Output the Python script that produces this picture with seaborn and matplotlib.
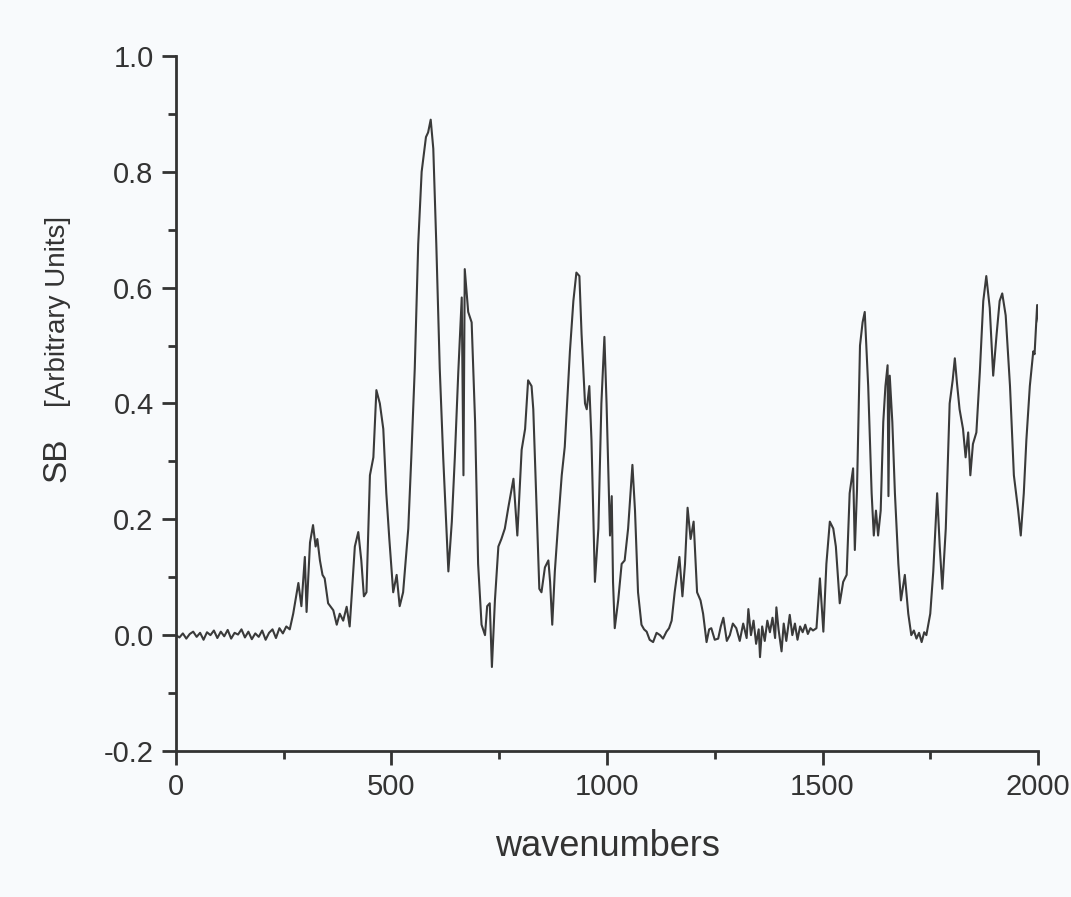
import matplotlib
matplotlib.use("Agg")
import matplotlib.pyplot as plt
import seaborn as sns
import pandas as pd
from matplotlib.ticker import MultipleLocator

wavenumbers = [
    0, 8, 16, 24, 32, 40, 48, 56, 64, 72, 80, 88, 96, 104, 112, 120, 128, 136, 144, 152,
    160, 168, 176, 184, 192, 200, 208, 216, 224, 232, 240, 248, 256, 264,
    272, 284, 291, 299, 303, 311, 318, 324, 328, 334, 340, 345, 353, 365, 373, 380, 388, 396,
    403, 407, 415, 423, 430, 436, 442, 450, 458, 465, 473, 481, 488, 495, 504, 512, 519, 527,
    539, 546, 554, 562, 570, 580, 585, 591, 597, 604, 612,
    620, 628, 632, 640, 647, 655, 663, 667, 670, 678, 686, 694, 701, 709, 717, 722, 728, 733,
    740, 748, 755, 763, 771, 783, 792, 802, 810, 817, 825, 829, 837, 843, 848, 856, 864, 868,
    873, 879, 887, 895, 902, 914, 922, 929, 936, 941, 949, 953, 959, 964, 972, 980, 987, 994,
    999, 1007, 1011, 1014, 1018, 1026, 1034, 1041, 1049, 1059, 1065, 1072, 1080, 1086, 1092,
    1099, 1107, 1115, 1123, 1130, 1138, 1144, 1150, 1157, 1168, 1175, 1181, 1187, 1194, 1201,
    1209, 1217, 1223, 1231, 1237, 1242, 1250, 1258, 1264, 1270, 1278, 1285, 1292, 1300,
    1308, 1316, 1324, 1328, 1334, 1340, 1346, 1352, 1355, 1360, 1366, 1372, 1378, 1384, 1390,
    1393, 1398, 1405, 1410, 1416, 1424, 1430, 1436, 1442, 1448, 1454, 1460, 1466, 1472, 1478,
    1486, 1494, 1502, 1509, 1517, 1525, 1531, 1540, 1548, 1556, 1563, 1571, 1575, 1580, 1587,
    1593, 1598, 1606, 1614, 1619, 1624, 1629, 1635, 1641, 1646, 1651, 1653, 1656, 1662, 1668,
    1676, 1682, 1691, 1699, 1706, 1712, 1718, 1724, 1730, 1736, 1741, 1750, 1757, 1766, 1772,
    1778, 1786, 1795, 1802, 1807, 1812, 1818, 1826, 1832, 1838, 1843, 1849, 1857, 1865, 1873,
    1880, 1888, 1896, 1904, 1911, 1917, 1925, 1935, 1944, 1954, 1960, 1967, 1973, 1981, 1989,
    1992, 1998, 2002,
]

sb_values = [
    0.000, -0.004, 0.003, -0.006, 0.002, 0.006, -0.003, 0.004, -0.008, 0.005, 0.000, 0.008,
    -0.005, 0.006, -0.002, 0.009, -0.006, 0.004, 0.001, 0.010, -0.004, 0.006, -0.007, 0.003,
    -0.003, 0.008, -0.008, 0.004, 0.010, -0.005, 0.012, 0.003, 0.015, 0.010,
    0.037, 0.090, 0.050, 0.135, 0.040, 0.160, 0.190, 0.153, 0.166, 0.129, 0.104, 0.098, 0.055,
    0.043, 0.018, 0.037, 0.025, 0.049, 0.015, 0.060, 0.153, 0.178, 0.129, 0.067, 0.074, 0.276,
    0.307, 0.423, 0.400, 0.356, 0.245, 0.166, 0.074, 0.104, 0.050, 0.074,
    0.184, 0.307, 0.460, 0.675, 0.800, 0.860, 0.868, 0.890, 0.840, 0.675, 0.460,
    0.307, 0.178, 0.110, 0.196, 0.307, 0.454, 0.583, 0.276, 0.632, 0.558, 0.540, 0.368, 0.123,
    0.018, 0.000, 0.050, 0.055, -0.055,
    0.060, 0.153, 0.166, 0.184, 0.220, 0.270, 0.172, 0.320, 0.356, 0.440, 0.430, 0.390, 0.215,
    0.080, 0.074, 0.117, 0.129, 0.092,
    0.018, 0.110, 0.196, 0.276, 0.325, 0.490, 0.577, 0.626, 0.620, 0.520, 0.400, 0.390, 0.430,
    0.337, 0.092, 0.184, 0.400, 0.515,
    0.400, 0.172, 0.240, 0.092, 0.012, 0.060, 0.123, 0.129, 0.184, 0.294, 0.215, 0.074, 0.018,
    0.010, 0.006,
    -0.008, -0.012, 0.004, 0.000, -0.006, 0.006, 0.012, 0.025, 0.074, 0.135, 0.067, 0.123,
    0.220, 0.166, 0.196,
    0.074, 0.060, 0.037, -0.012, 0.010, 0.012, -0.008, -0.006, 0.015, 0.030, -0.010, 0.000,
    0.020, 0.012,
    -0.010, 0.020, -0.005, 0.045, 0.000, 0.025, -0.015, 0.010, -0.038, 0.015, -0.010, 0.025,
    0.005, 0.030, -0.005,
    0.048, 0.010, -0.028, 0.020, -0.010, 0.035, 0.000, 0.020, -0.008, 0.015, 0.005, 0.018,
    0.002, 0.012, 0.008,
    0.012, 0.098, 0.006, 0.123, 0.196, 0.184, 0.153, 0.055, 0.092, 0.104, 0.245, 0.288, 0.147,
    0.250, 0.500,
    0.540, 0.558, 0.430, 0.245, 0.172, 0.215, 0.172, 0.215, 0.368, 0.430, 0.466, 0.240, 0.448,
    0.368, 0.245,
    0.123, 0.060, 0.104, 0.037, 0.000, 0.008, -0.006, 0.004, -0.012, 0.005, 0.000, 0.037,
    0.110, 0.245, 0.153,
    0.080, 0.184, 0.400, 0.440, 0.478, 0.435, 0.390, 0.356, 0.307, 0.350, 0.276, 0.330, 0.350,
    0.454, 0.577,
    0.620, 0.565, 0.448, 0.520, 0.577, 0.590, 0.552, 0.430, 0.276, 0.215, 0.172, 0.245, 0.337,
    0.430, 0.490,
    0.485, 0.570, 0.540,
]

x_ticks = [0, 500, 1000, 1500, 2000]
y_ticks = [-0.2, 0.0, 0.2, 0.4, 0.6, 0.8, 1.0]

df = pd.DataFrame({"wavenumbers": wavenumbers, "SB": sb_values})

sns.set_theme(style="ticks")
plt.rcParams["font.family"] = ["Liberation Sans", "DejaVu Sans"]

fig = plt.figure(figsize=(10.71, 8.97), dpi=100)
fig.patch.set_facecolor("#f8fafc")
ax = fig.add_axes([0.1643, 0.1628, 0.8049, 0.7748])
ax.set_facecolor("none")

sns.lineplot(data=df, x="wavenumbers", y="SB", ax=ax, color="#3a3a3a",
             linewidth=1.5, estimator=None, sort=False)

ax.set_xlim(0, 2000)
ax.set_ylim(-0.2, 1.0)
ax.set_xticks(x_ticks)
ax.set_yticks(y_ticks)
ax.set_xticklabels([str(t) for t in x_ticks])
ax.set_yticklabels([f"{t:.1f}" for t in y_ticks])
ax.xaxis.set_minor_locator(MultipleLocator(250))
ax.yaxis.set_minor_locator(MultipleLocator(0.1))

for side in ["top", "right"]:
    ax.spines[side].set_visible(False)
for side in ["left", "bottom"]:
    ax.spines[side].set_linewidth(2.0)
    ax.spines[side].set_color("#333333")

ax.tick_params(axis="both", which="major", direction="out", length=10, width=2,
               color="#333333", labelsize=21, labelcolor="#333333", pad=6)
ax.tick_params(axis="both", which="minor", direction="out", length=6, width=2,
               color="#333333")

ax.set_xlabel("wavenumbers", fontsize=26, color="#333333", labelpad=20)
ax.set_ylabel("")

fig.text(0.0607, 0.4872, "SB", rotation=90, rotation_mode="anchor",
         ha="center", va="baseline", fontsize=24, color="#333333")
fig.text(0.0607, 0.6533, "[Arbitrary Units]", rotation=90, rotation_mode="anchor",
         ha="center", va="baseline", fontsize=20, color="#333333")

fig.savefig("out.png", dpi=100, facecolor=fig.get_facecolor())
